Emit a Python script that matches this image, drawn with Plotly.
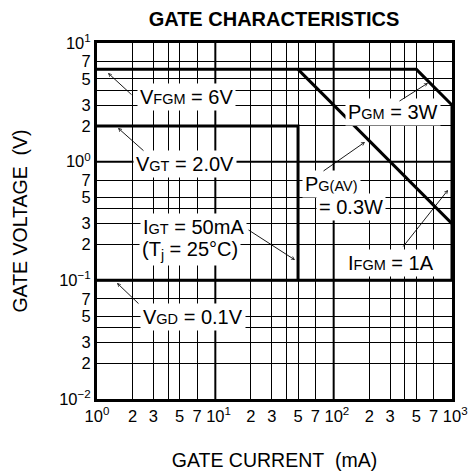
import plotly.graph_objects as go

# ---- data (mA, V) ----
vfgm_pgm_ifgm_i = [1, 500, 1000, 1000]
vfgm_pgm_ifgm_v = [6, 6, 3, 0.1]
vgt_igt_i = [1, 50, 50]
vgt_igt_v = [2, 2, 0.1]
pgav_i = [50, 1000]
pgav_v = [6, 0.3]
vgd_i = [1, 1000]
vgd_v = [0.1, 0.1]

x_grid = [1, 2, 3, 4, 5, 7, 10, 20, 30, 40, 50, 70, 100, 200, 300, 400, 500, 700, 1000]
x_labels = ["10<sup>0</sup>", "2", "3", "", "5", "7",
            "<sup>\u2007</sup>10<sup>1</sup>", "2", "3", "", "5", "7",
            "<sup>\u2007</sup>10<sup>2</sup>", "2", "3", "", "5", "7",
            "<sup>\u2007</sup>10<sup>3</sup>"]
y_grid = [0.01, 0.02, 0.03, 0.04, 0.05, 0.07, 0.1, 0.2, 0.3, 0.4, 0.5, 0.7,
          1, 2, 3, 4, 5, 7, 10]
y_labels = ["10<sup>\u22122</sup>", "2", "3", "", "5", "7",
            "10<sup>\u22121</sup>", "2", "3", "", "5", "7",
            "10<sup>0</sup>", "2", "3", "", "5", "7", "10<sup>1</sup>"]
x_decades = [10, 100]
y_decades = [0.1, 1]

FONT = "Liberation Sans, Arial, Helvetica, sans-serif"
W, H = 474, 473
L, R, T, B = 97, 22, 43, 74
PW, PH = W - L - R, H - T - B


def px(x, y):
    return (x - L) / PW, (H - B - y) / PH


fig = go.Figure()
for xs, ys in [(vfgm_pgm_ifgm_i, vfgm_pgm_ifgm_v), (vgt_igt_i, vgt_igt_v),
               (pgav_i, pgav_v), (vgd_i, vgd_v)]:
    fig.add_trace(go.Scatter(x=xs, y=ys, mode="lines",
                             line=dict(color="black", width=3),
                             hoverinfo="skip", showlegend=False))

shapes = []
for xv in x_decades:
    shapes.append(dict(type="line", xref="x", yref="paper", x0=xv, x1=xv, y0=0, y1=1,
                       line=dict(color="black", width=2), layer="below"))
for yv in y_decades:
    shapes.append(dict(type="line", xref="paper", yref="y", x0=0, x1=1, y0=yv, y1=yv,
                       line=dict(color="black", width=2), layer="below"))

SUB = "<span style='font-size:14.5px'>%s</span>"
labels = [
    ("V" + SUB % "FGM" + " = 6V", 186, 97),
    ("P" + SUB % "GM" + " = 3W", 393, 112),
    ("V" + SUB % "GT" + " = 2.0V", 185, 164),
    ("P" + SUB % "G(AV)", 331, 184),
    ("= 0.3W", 351, 207),
    ("I" + SUB % "GT" + " = 50mA", 193, 227),
    ("(T<sub>j</sub> = 25°C)", 190, 250),
    ("I" + SUB % "FGM" + " = 1A", 391, 263),
    ("V" + SUB % "GD" + " = 0.1V", 193, 317),
]
arrows = [  # (tail x, tail y, head x, head y) in pixels
    (133, 96, 108, 73),
    (398, 102, 428, 83),
    (145, 152, 118, 128),
    (322, 172, 365, 142),
    (247, 229, 295, 260),
    (402, 248, 448, 190),
    (140, 305, 117, 283),
]

annotations = []
for txt, cx, cy in labels:
    xp, yp = px(cx, cy)
    annotations.append(dict(text=txt, x=xp, y=yp, xref="paper", yref="paper",
                            showarrow=False, bgcolor="white", borderpad=2,
                            font=dict(size=20, color="black", family=FONT),
                            xanchor="center", yanchor="middle"))
for tx, ty, hx, hy in arrows:
    xp, yp = px(hx, hy)
    annotations.append(dict(text="", x=xp, y=yp, xref="paper", yref="paper",
                            showarrow=True, ax=tx - hx, ay=ty - hy,
                            arrowhead=5, arrowsize=0.7, arrowwidth=0.9,
                            arrowcolor="black", standoff=0))

fig.update_layout(
    width=W, height=H,
    margin=dict(l=L, r=R, t=T, b=B, autoexpand=False),
    paper_bgcolor="white", plot_bgcolor="white",
    font=dict(family=FONT, color="black", size=16),
    title=dict(text="<b>GATE CHARACTERISTICS</b>", x=274 / W, xanchor="center",
               y=1 - 19 / H, yanchor="middle", yref="container",
               font=dict(size=20, family=FONT, color="black")),
    shapes=shapes,
    annotations=annotations,
    showlegend=False,
)
fig.update_xaxes(type="log", range=[0, 3], tickmode="array", tickvals=x_grid,
                 ticktext=x_labels, ticks="", tickangle=0, showgrid=True,
                 gridcolor="black", gridwidth=1, zeroline=False, showline=True,
                 mirror=True, linecolor="black", linewidth=3,
                 tickfont=dict(size=16.5),
                 title=dict(text="GATE CURRENT\u00a0\u00a0(mA)", standoff=30,
                            font=dict(size=19.5)),
                 automargin=False)
fig.update_yaxes(type="log", range=[-2, 1], tickmode="array", tickvals=y_grid,
                 ticktext=y_labels, ticks="", showgrid=True, gridcolor="black",
                 gridwidth=1, zeroline=False, showline=True, mirror=True,
                 linecolor="black", linewidth=3, tickfont=dict(size=16.5),
                 title=dict(text="GATE VOLTAGE\u00a0\u00a0(V)", standoff=27,
                            font=dict(size=19.5)),
                 automargin=False)

fig.write_html("out.html",
               config={"displayModeBar": False},
               post_script="document.body.style.margin='0';"
                           "document.body.style.overflow='hidden';")
